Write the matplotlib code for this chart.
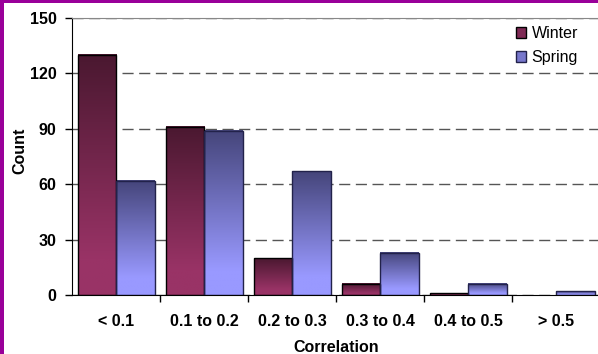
import matplotlib
matplotlib.use("Agg")
import matplotlib.pyplot as plt
import numpy as np
from matplotlib.colors import LinearSegmentedColormap
from matplotlib.patches import Patch, Rectangle

categories = ["< 0.1", "0.1 to 0.2", "0.2 to 0.3", "0.3 to 0.4", "0.4 to 0.5", "> 0.5"]
winter = [130, 91, 20, 6, 1, 0]
spring = [62, 89, 67, 23, 6, 2]
yticks = [0, 30, 60, 90, 120, 150]

plt.rcParams["font.family"] = ["Liberation Sans", "DejaVu Sans"]
FS = 11.5

W_DARK, W_LIGHT = "#4a1830", "#993366"
S_DARK, S_LIGHT = "#45457a", "#9999ff"


def gradient_fill(ax, bar, dark, light):
    x, y = bar.get_x(), bar.get_y()
    w, h = bar.get_width(), bar.get_height()
    if h <= 0:
        bar.set_visible(False)
        return
    cmap = LinearSegmentedColormap.from_list("g", [(0, light), (0.15, light), (1, dark)])
    grad = np.linspace(0, 1, 256).reshape(-1, 1)
    ax.imshow(grad, extent=(x, x + w, y, y + h), origin="lower", cmap=cmap,
              aspect="auto", zorder=2, interpolation="bilinear")


fig = plt.figure(figsize=(5.98, 3.54), dpi=100)
ax = fig.add_axes([72 / 598, 1 - 295 / 354, 528 / 598, 277 / 354])

x = np.arange(len(categories))
bw = 0.4375
wb = ax.bar(x - bw / 2, winter, bw, facecolor="none", edgecolor="black", lw=1, zorder=3)
sb = ax.bar(x + bw / 2, spring, bw, facecolor="none", edgecolor="#22224a", lw=1, zorder=3)
for b in wb:
    gradient_fill(ax, b, W_DARK, W_LIGHT)
for b in sb:
    gradient_fill(ax, b, S_DARK, S_LIGHT)

ax.set_xlim(-0.5, len(categories) - 0.5)
ax.set_ylim(0, 150)
ax.set_yticks(yticks)
ax.set_yticklabels([str(v) for v in yticks], fontsize=FS, fontweight="bold")
ax.tick_params(axis="y", direction="out", length=5, width=1, pad=6)

# boundaries get tick marks, centres get the labels
ax.set_xticks(np.arange(len(categories) - 1) + 0.5)
ax.set_xticklabels([])
ax.set_xticks(x, minor=True)
ax.set_xticklabels(categories, minor=True, fontsize=FS, fontweight="bold")
ax.tick_params(axis="x", which="major", direction="out", length=5, width=1)
ax.tick_params(axis="x", which="minor", length=0, pad=14)

ax.set_axisbelow(True)
ax.yaxis.grid(True, color="#555555", lw=1, linestyle=(0, (8, 4)))
ax.spines["right"].set_visible(False)
ax.spines["top"].set_color("#888888")
ax.spines["left"].set_color("black")
ax.spines["bottom"].set_color("black")

ax.set_ylabel("Count", fontsize=FS, fontweight="bold")
ax.yaxis.set_label_coords(-0.0985, 0.52)
ax.set_xlabel("Correlation", fontsize=FS, fontweight="bold")
ax.xaxis.set_label_coords(0.5, -0.188)
ax.xaxis.label.set_va("center")
ax.yaxis.label.set_va("center")

handles = [Patch(facecolor="#7f2a55", edgecolor="black", label="Winter"),
           Patch(facecolor="#7777cc", edgecolor="#22224a", label="Spring")]
fig.legend(handles=handles, loc="upper right", bbox_to_anchor=(578 / 598, 1 - 26 / 354),
           frameon=False, fontsize=FS, handlelength=0.65, handleheight=0.65,
           handletextpad=0.35, labelspacing=0.55, borderpad=0, borderaxespad=0)

# purple frame along the left and top edge
fig.patches.append(Rectangle((0, 0), 4 / 598, 1, transform=fig.transFigure,
                             facecolor="#990099", edgecolor="none", zorder=10))
fig.patches.append(Rectangle((0, 1 - 3 / 354), 1, 3 / 354, transform=fig.transFigure,
                             facecolor="#990099", edgecolor="none", zorder=10))

fig.savefig("out.png", dpi=100)
